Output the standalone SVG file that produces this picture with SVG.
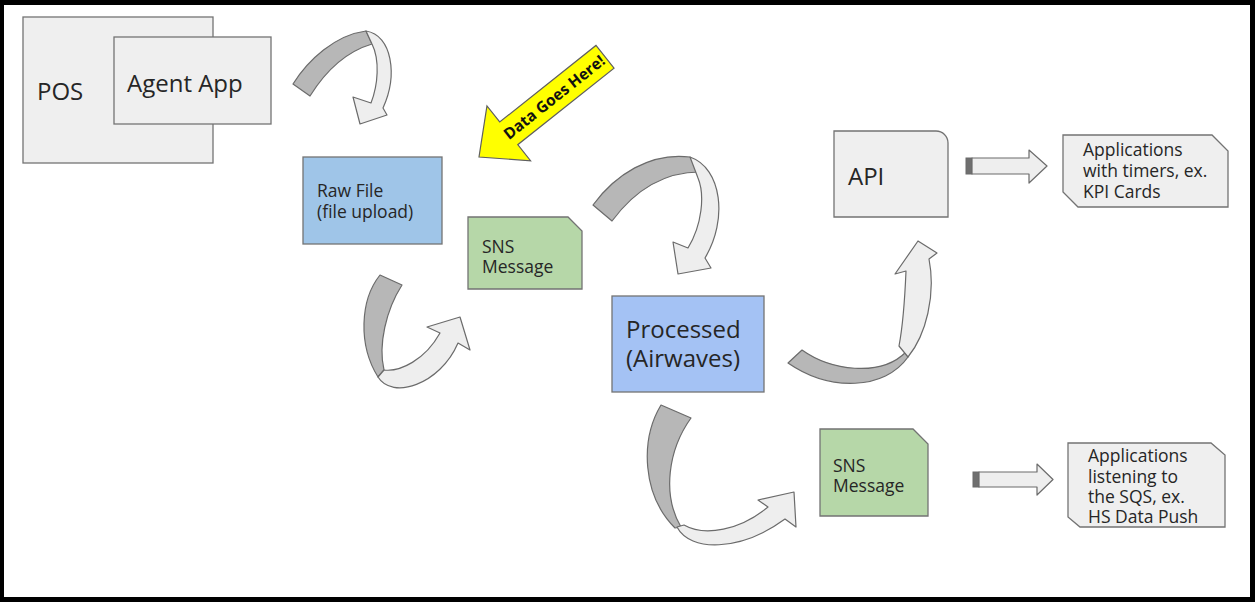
<svg xmlns="http://www.w3.org/2000/svg" width="1255" height="602" viewBox="0 0 1255 602">
<style>
.box{stroke:#737373;stroke-width:1.3}
.grey{fill:#efefef}
.blue{fill:#9fc5e8}
.violet{fill:#a4c2f4}
.green{fill:#b6d7a8}
.t{font-family:"Open Sans","Liberation Sans",sans-serif;fill:#262626}
.big{font-size:24px}
.sm{font-size:17.5px}
.dark{fill:#b7b7b7;stroke:#6b6b6b;stroke-width:1.2;stroke-linejoin:round}
.light{fill:#eeeeee;stroke:#6b6b6b;stroke-width:1.2;stroke-linejoin:round}
</style>
<rect x="0" y="0" width="1255" height="602" fill="#000"/>
<rect x="4" y="5" width="1246" height="592" fill="#fff"/>

<g id="pos">
<rect class="box grey" x="23" y="17" width="190" height="146"/>
<text class="t big" x="37" y="100">POS</text>
</g>
<g id="agent-app">
<rect class="box grey" x="114" y="37" width="157" height="87"/>
<text class="t big" x="127" y="92">Agent App</text>
</g>
<g id="raw-file">
<rect class="box blue" x="303" y="157" width="139" height="87"/>
<text class="t sm"><tspan x="317" y="197">Raw File</tspan><tspan x="317" y="218">(file upload)</tspan></text>
</g>
<g id="sns-1">
<path class="box green" d="M468,217 H568 L582,231 V289 H468 Z"/>
<text class="t sm"><tspan x="482" y="253">SNS</tspan><tspan x="482" y="273">Message</tspan></text>
</g>
<g id="processed">
<rect class="box violet" x="612" y="296" width="152" height="96"/>
<text class="t big"><tspan x="626" y="338">Processed</tspan><tspan x="626" y="367">(Airwaves)</tspan></text>
</g>
<g id="api">
<path class="box grey" d="M834,131 H936 A12,12 0 0 1 948,143 V217 H834 Z"/>
<text class="t big" x="848" y="185">API</text>
</g>
<g id="apps-timers">
<path class="box grey" d="M1063,135 H1212 L1228,151 V207 H1078 L1063,192 Z"/>
<text class="t sm"><tspan x="1083" y="156">Applications</tspan><tspan x="1083" y="177">with timers, ex.</tspan><tspan x="1083" y="198">KPI Cards</tspan></text>
</g>
<g id="sns-2">
<path class="box green" d="M820,429 H913 L928,444 V516 H820 Z"/>
<text class="t sm"><tspan x="833" y="472">SNS</tspan><tspan x="833" y="492">Message</tspan></text>
</g>
<g id="apps-sqs">
<path class="box grey" d="M1068,443 H1211 L1225,455 V527 H1080 L1068,517 Z"/>
<text class="t sm"><tspan x="1088" y="462">Applications</tspan><tspan x="1088" y="482.5">listening to</tspan><tspan x="1088" y="503">the SQS, ex.</tspan><tspan x="1088" y="523">HS Data Push</tspan></text>
</g>
<g id="data-goes-here">
<g transform="translate(479,157) rotate(-38.5)">
<path d="M0,0 L38,-35 L38,-14.5 L161,-14.5 L161,14.5 L38,14.5 L38,35 Z" fill="#ffff00" stroke="#5f5f5f" stroke-width="1.2" stroke-linejoin="miter"/>
<text x="96" y="5.5" text-anchor="middle" font-family="'Open Sans','Liberation Sans',sans-serif" font-weight="bold" font-size="15.5" fill="#111">Data Goes Here!</text>
</g>
</g>

<g id="connectors">
<!-- POS to Raw File -->
<path class="dark" d="M293,84 C308,60 335,35 366,31 L372,44 C345,52 325,72 310,96 Z"/>
<path class="light" d="M366,31 C392,35 398,75 383,108 L387,115 L360,124 L353,97 L371,103 C378,85 380,60 372,44 Z"/>
<!-- Raw File to SNS -->
<path class="dark" d="M380,275 L402,285 C386,310 378,345 384,370 L378,377 C358,345 360,300 380,275 Z"/>
<path class="light" d="M378,377 C392,400 440,385 458,343 L470,350 L460,317 L427,327 L440,333 C425,360 400,372 384,370 Z"/>
<!-- SNS to Processed -->
<path class="dark" d="M593,205 C615,175 650,152 690,157 L700,172 C665,172 635,190 612,221 Z"/>
<path class="light" d="M690,157 C722,168 728,220 705,258 L711,268 L678,274 L673,242 L688,248 C702,225 705,195 698,178 Z"/>
<!-- Processed to API -->
<path class="dark" d="M802,350 C830,370 880,378 906,352 L908,357 C885,390 830,392 788,363 Z"/>
<path class="light" d="M908,357 C926,335 936,295 929,259 L937,253 L918,241 L895,274 L906,271 C905,295 903,325 899,346 Z"/>
<!-- Processed to SNS 2 -->
<path class="dark" d="M661,405 L691,418 C668,450 662,495 681,527 L675,528 C642,495 640,440 661,405 Z"/>
<path class="light" d="M677,527 C690,552 740,552 785,519 L796,527 L794,492 L758,500 L768,507 C740,530 705,537 684,525 Z"/>
<!-- API to Applications -->
<rect x="966" y="158" width="6" height="16" fill="#6f6f6f" stroke="#6b6b6b" stroke-width="1"/>
<path class="light" d="M972,158 H1029 V150 L1047,166 L1029,183 V174 H972 Z"/>
<!-- SNS 2 to Applications -->
<rect x="973" y="472" width="6" height="15" fill="#6f6f6f" stroke="#6b6b6b" stroke-width="1"/>
<path class="light" d="M979,472 H1037 V464 L1053,479.5 L1037,495 V487 H979 Z"/>
</g>
</svg>
